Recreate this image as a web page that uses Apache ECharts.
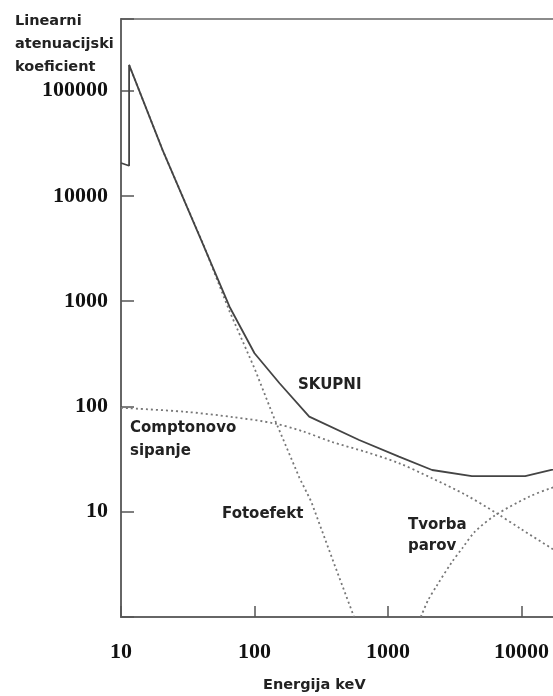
<!DOCTYPE html>
<html>
<head>
<meta charset="utf-8">
<script src="https://cdn.jsdelivr.net/npm/echarts@6/dist/echarts.min.js"></script>
<style>html,body{margin:0;padding:0;background:#fff}#c{width:553px;height:696px}</style>
</head>
<body>
<div id="c"></div>
<script>
// Energy (keV) and linear attenuation coefficient readings
const totalE  = [10, 11.5, 11.5, 20.5, 41, 65, 100, 154, 257, 608, 1208, 2140, 4250, 10660, 16750, 30000];
const totalMu = [20500, 19300, 175000, 27200, 3500, 885, 320, 166, 80, 48, 33.3, 24.9, 21.8, 21.8, 24.9, 29.5];

const photoE  = [11.5, 20.5, 41, 65, 100, 140, 217, 266, 395, 557];
const photoMu = [175000, 27200, 3560, 800, 230, 78, 21, 12.5, 3.2, 1];

const comptonE  = [10, 30, 70, 140, 230, 380, 680, 1200, 2100, 3800, 6400, 10000, 16750, 30000];
const comptonMu = [97, 89, 79, 69, 58, 46, 37, 29, 21, 14.5, 9.8, 6.8, 4.5, 2.8];

const pairE  = [1760, 2000, 2300, 3000, 3600, 4500, 6400, 11300, 16750, 30000];
const pairMu = [1, 1.45, 1.95, 3.3, 4.5, 6.5, 9.3, 13.8, 16.8, 21];

const xTickLabels = [10, 100, 1000, 10000];
const yTickLabels = [10, 100, 1000, 10000, 100000];

const yTitleLines = ['Linearni', 'atenuacijski', 'koeficient'];
const xTitle = 'Energija keV';
const labelSkupni = 'SKUPNI';
const labelCompton = ['Comptonovo', 'sipanje'];
const labelFoto = 'Fotoefekt';
const labelPair = ['Tvorba', 'parov'];

function pairs(xs, ys) { return xs.map((x, i) => [x, ys[i]]); }

const sansFont = 'bold 14.5px "DejaVu Sans"';
const annFont = 'bold 15px "DejaVu Sans"';
const txt = (s, x, yc, font) => ({
  type: 'text', left: x, top: yc - 7,
  style: { text: s, font: font, fill: '#222' }
});

const chart = echarts.init(document.getElementById('c'));
chart.setOption({
  animation: false,
  backgroundColor: '#fff',
  grid: { left: 121, top: 19, width: 534, height: 598, containLabel: false, outerBoundsMode: 'none',
          show: true, borderColor: '#666', borderWidth: 1.5 },
  xAxis: {
    type: 'log', logBase: 10, min: 10, max: 100000,
    axisLine: { lineStyle: { color: '#666', width: 2 } },
    axisTick: { inside: true, length: 11, lineStyle: { color: '#555', width: 1.5 } },
    splitLine: { show: false },
    axisLabel: {
      margin: 24, fontFamily: '"Liberation Serif"', fontSize: 22, fontWeight: 'bold', color: '#111',
      formatter: v => { const r = Math.round(v); return xTickLabels.includes(r) ? String(r) : ''; }
    }
  },
  yAxis: {
    type: 'log', logBase: 10, min: 1, max: 478000,
    axisLine: { lineStyle: { color: '#666', width: 2 } },
    axisTick: { inside: true, length: 13, lineStyle: { color: '#555', width: 1.5 } },
    splitLine: { show: false },
    axisLabel: {
      margin: 13, fontFamily: '"Liberation Serif"', fontSize: 22, fontWeight: 'bold', color: '#111',
      formatter: v => { const r = Math.round(v); return yTickLabels.includes(r) ? String(r) : ''; }
    }
  },
  series: [
    { name: 'Fotoefekt', type: 'line', data: pairs(photoE, photoMu), showSymbol: false, z: 2,
      lineStyle: { color: '#777', width: 1.8, type: [2, 3] } },
    { name: 'Comptonovo sipanje', type: 'line', data: pairs(comptonE, comptonMu), showSymbol: false, smooth: 0.3, z: 2,
      lineStyle: { color: '#777', width: 1.8, type: [2, 3] } },
    { name: 'Tvorba parov', type: 'line', data: pairs(pairE, pairMu), showSymbol: false, smooth: 0.3, z: 2,
      lineStyle: { color: '#777', width: 1.8, type: [2, 3] } },
    { name: 'SKUPNI', type: 'line', data: pairs(totalE, totalMu), showSymbol: false, z: 3,
      lineStyle: { color: '#444', width: 1.8 } }
  ],
  graphic: [
    txt(yTitleLines[0], 15, 21, sansFont),
    txt(yTitleLines[1], 15, 44, sansFont),
    txt(yTitleLines[2], 15, 67, sansFont),
    txt(xTitle, 263, 685, sansFont),
    txt(labelSkupni, 298, 385, annFont),
    txt(labelCompton[0], 130, 428, annFont),
    txt(labelCompton[1], 130, 451, annFont),
    txt(labelFoto, 222, 514, annFont),
    txt(labelPair[0], 408, 525, annFont),
    txt(labelPair[1], 408, 546, annFont)
  ]
});
</script>
</body>
</html>
